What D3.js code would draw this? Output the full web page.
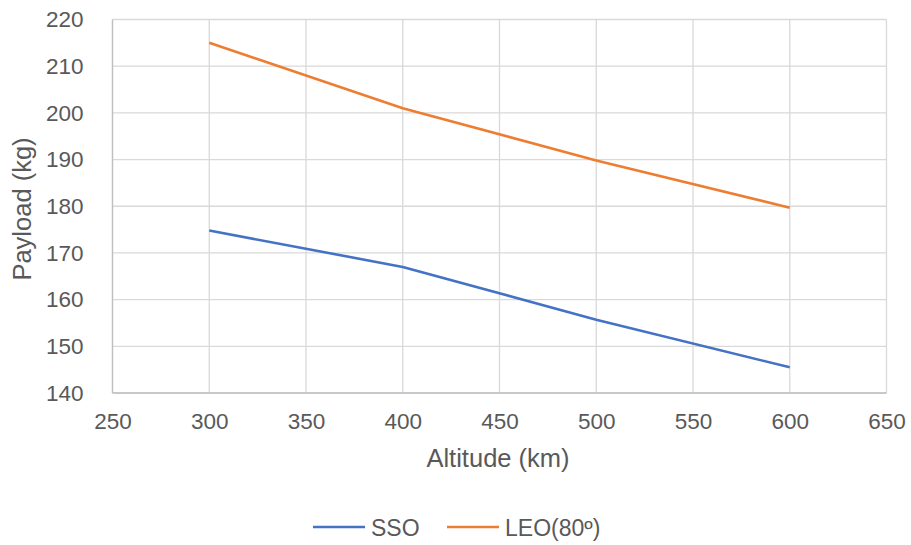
<!DOCTYPE html>
<html><head><meta charset="utf-8">
<script src="https://cdn.jsdelivr.net/npm/d3@7"></script>
<style>
body{margin:0;background:#fff;}
svg{display:block;font-family:"Liberation Sans",Arial,sans-serif;}
</style></head>
<body><svg id="c" width="911" height="545"></svg>
<script>
const altitudes = [300, 400, 500, 600];
const ssoValues = [174.8, 167.0, 155.7, 145.5];
const leoValues = [215.0, 201.0, 189.8, 179.7];
const seriesNames = ["SSO", "LEO(80º)"];
const seriesColors = ["#4472C4", "#ED7D31"];
const xTicks = [250, 300, 350, 400, 450, 500, 550, 600, 650];
const yTicks = [140, 150, 160, 170, 180, 190, 200, 210, 220];

const svg = d3.select("#c");
const x = d3.scaleLinear().domain([250, 650]).range([112.5, 886.5]);
const y = d3.scaleLinear().domain([140, 220]).range([393, 19.5]);

// grid
svg.append("g").selectAll("line").data(yTicks).join("line")
  .attr("x1", x(250)).attr("x2", x(650))
  .attr("y1", d => y(d)).attr("y2", d => y(d))
  .attr("stroke", "#d9d9d9").attr("stroke-width", 1.3);
svg.append("g").selectAll("line").data(xTicks).join("line")
  .attr("y1", y(140)).attr("y2", y(220))
  .attr("x1", d => x(d)).attr("x2", d => x(d))
  .attr("stroke", "#d9d9d9").attr("stroke-width", 1.3);
// axis lines
svg.append("line").attr("x1", x(250)).attr("x2", x(650)).attr("y1", y(140)).attr("y2", y(140))
  .attr("stroke", "#bfbfbf").attr("stroke-width", 1.3);
svg.append("line").attr("x1", x(250)).attr("x2", x(250)).attr("y1", y(140)).attr("y2", y(220))
  .attr("stroke", "#bfbfbf").attr("stroke-width", 1.3);

// axes labels via d3 axes
const xAxis = svg.append("g").attr("transform", `translate(0,${y(140)})`)
  .call(d3.axisBottom(x).tickValues(xTicks).tickSize(0).tickPadding(20));
xAxis.select(".domain").remove();
xAxis.selectAll("text").attr("font-size", 22.5).attr("fill", "#595959")
  .attr("font-family", "Liberation Sans, Arial, sans-serif");
const yAxis = svg.append("g").attr("transform", `translate(${x(250)},0)`)
  .call(d3.axisLeft(y).tickValues(yTicks).tickSize(0).tickPadding(29));
yAxis.select(".domain").remove();
yAxis.selectAll("text").attr("font-size", 22.5).attr("fill", "#595959")
  .attr("font-family", "Liberation Sans, Arial, sans-serif");

// lines
const line = d3.line().x(d => x(d[0])).y(d => y(d[1]));
[ssoValues, leoValues].forEach((vals, i) => {
  svg.append("path").datum(altitudes.map((a, j) => [a, vals[j]]))
    .attr("d", line).attr("fill", "none")
    .attr("stroke", seriesColors[i]).attr("stroke-width", 2.6)
    .attr("stroke-linejoin", "round");
});

// titles
svg.append("text").attr("x", 498).attr("y", 466.5).attr("text-anchor", "middle")
  .attr("font-size", 25.5).attr("fill", "#595959").text("Altitude (km)");
svg.append("text").attr("transform", "translate(31,209) rotate(-90)").attr("text-anchor", "middle")
  .attr("font-size", 25.5).attr("fill", "#595959").text("Payload (kg)");

// legend
const legX = [313, 447];
seriesNames.forEach((n, i) => {
  const g = svg.append("g").attr("transform", `translate(${legX[i]},527)`);
  g.append("line").attr("x1", 0).attr("x2", 52).attr("stroke", seriesColors[i]).attr("stroke-width", 2.6);
  g.append("text").attr("x", 58).attr("y", 8.5).attr("font-size", 23).attr("fill", "#595959").text(n);
});
</script></body></html>
